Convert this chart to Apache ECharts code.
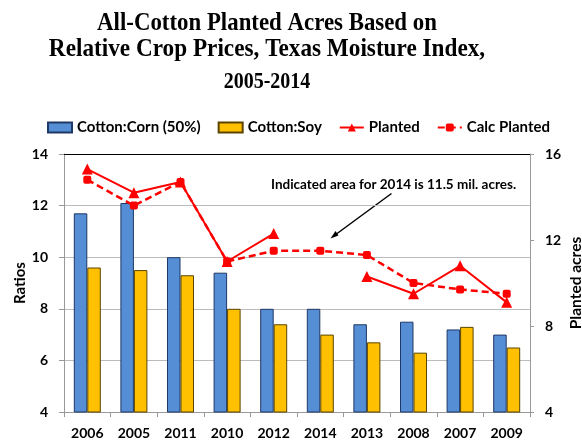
<!DOCTYPE html>
<html><head><meta charset="utf-8">
<script src="https://cdn.jsdelivr.net/npm/echarts@6/dist/echarts.min.js"></script>
<style>html,body{margin:0;padding:0;background:#fff}#c{width:582px;height:442px}</style>
</head><body><div id="c"></div>
<script>
const categories = ['2006','2005','2011','2010','2012','2014','2013','2008','2007','2009'];
const cottonCorn = [11.7, 12.1, 10.0, 9.4, 8.0, 8.0, 7.4, 7.5, 7.2, 7.0];
const cottonSoy = [9.6, 9.5, 9.3, 8.0, 7.4, 7.0, 6.7, 6.3, 7.3, 6.5];
const planted = [15.3, 14.2, 14.7, 11.0, 12.3, null, 10.3, 9.5, 10.8, 9.1];
const calcPlanted = [14.8, 13.6, 14.7, 11.0, 11.5, 11.5, 11.3, 10.0, 9.7, 9.5];
const leftTicks = {min: 4, max: 14, interval: 2};
const rightTicks = {min: 4, max: 16, interval: 4};

const chart = echarts.init(document.getElementById('c'), null, {renderer: 'canvas'});
const sans = 'Lato, "Open Sans", sans-serif';
const serif = '"Liberation Serif", "Times New Roman", serif';
chart.setOption({
  animation: false,
  graphic: [
    {type: 'text', x: 267, y: 24, scaleX: 0.914, style: {text: 'All-Cotton Planted Acres Based on', font: 'bold 25px ' + serif, fill: '#000', align: 'center', verticalAlign: 'middle'}},
    {type: 'text', x: 267, y: 49.5, scaleX: 0.929, style: {text: 'Relative Crop Prices, Texas Moisture Index,', font: 'bold 25px ' + serif, fill: '#000', align: 'center', verticalAlign: 'middle'}},
    {type: 'text', x: 267, y: 82.5, scaleX: 0.87, style: {text: '2005-2014', font: 'bold 23px ' + serif, fill: '#000', align: 'center', verticalAlign: 'middle'}},
    {type: 'text', x: 271, y: 185, style: {text: 'Indicated area for 2014 is 11.5 mil. acres.', font: 'bold 13.5px ' + sans, fill: '#000', align: 'left', verticalAlign: 'middle'}},
    {type: 'line', shape: {x1: 391.5, y1: 193.5, x2: 333, y2: 236.5}, style: {stroke: '#000', lineWidth: 1.5}},
    {type: 'polygon', shape: {points: [[330.5, 238.5], [335.5, 231], [338.5, 235.5]]}, style: {fill: '#000'}}
  ],
  legend: {
    left: 42, top: 115, itemGap: 17, itemWidth: 24, itemHeight: 10,
    textStyle: {fontFamily: sans, fontWeight: 'bold', fontSize: 15, color: '#000'},
    data: [
      {name: 'Cotton:Corn (50%)', icon: 'rect'},
      {name: 'Cotton:Soy', icon: 'rect'},
      {name: 'Planted'},
      {name: 'Calc Planted'}
    ]
  },
  grid: {left: 64, right: 52, top: 154, bottom: 30, containLabel: false, outerBoundsMode: 'none'},
  xAxis: [{
    type: 'category', data: categories,
    axisLine: {lineStyle: {color: '#999'}},
    axisTick: {show: true, length: 5, lineStyle: {color: '#999'}},
    axisLabel: {fontFamily: sans, fontWeight: 'bold', fontSize: 14, color: '#000', margin: 14}
  }, {
    type: 'category', data: categories, position: 'top',
    axisLine: {lineStyle: {color: '#000', width: 1}},
    axisTick: {show: false}, axisLabel: {show: false}
  }],
  yAxis: [{
    type: 'value', min: leftTicks.min, max: leftTicks.max, interval: leftTicks.interval,
    name: 'Ratios', nameLocation: 'middle', nameGap: 36, nameRotate: 90, nameMoveOverlap: false,
    nameTextStyle: {fontFamily: sans, fontWeight: 'bold', fontSize: 15, color: '#000'},
    axisLine: {show: true, lineStyle: {color: '#999'}},
    axisTick: {show: true, length: 5, lineStyle: {color: '#999'}},
    axisLabel: {fontFamily: sans, fontWeight: 'bold', fontSize: 14, color: '#000', margin: 16},
    splitLine: {lineStyle: {color: '#bbb'}}
  }, {
    type: 'value', min: rightTicks.min, max: rightTicks.max, interval: rightTicks.interval,
    name: 'Planted acres', nameLocation: 'middle', nameGap: 38, nameRotate: 90, nameMoveOverlap: false,
    nameTextStyle: {fontFamily: sans, fontWeight: 'bold', fontSize: 15.5, color: '#000'},
    axisLine: {show: true, lineStyle: {color: '#999'}},
    axisTick: {show: true, length: 4, lineStyle: {color: '#999'}},
    axisLabel: {fontFamily: sans, fontWeight: 'bold', fontSize: 14, color: '#000', margin: 15},
    splitLine: {show: false}
  }],
  series: [
    {name: 'Cotton:Corn (50%)', type: 'bar', data: cottonCorn, barWidth: 13.5, barGap: '0%',
     itemStyle: {color: '#558ED5', borderColor: '#1F3864', borderWidth: 1}},
    {name: 'Cotton:Soy', type: 'bar', data: cottonSoy, barWidth: 13.5, barGap: '0%',
     itemStyle: {color: '#FFC000', borderColor: '#5a4500', borderWidth: 1}},
    {name: 'Planted', type: 'line', yAxisIndex: 1, data: planted, connectNulls: false,
     symbol: 'triangle', symbolSize: 11, lineStyle: {color: '#FF0000', width: 2},
     itemStyle: {color: '#FF0000'}},
    {name: 'Calc Planted', type: 'line', yAxisIndex: 1, data: calcPlanted,
     symbol: 'roundRect', symbolSize: 8, lineStyle: {color: '#FF0000', width: 2.5, type: [7, 4]},
     itemStyle: {color: '#FF0000'}}
  ]
});
</script></body></html>
